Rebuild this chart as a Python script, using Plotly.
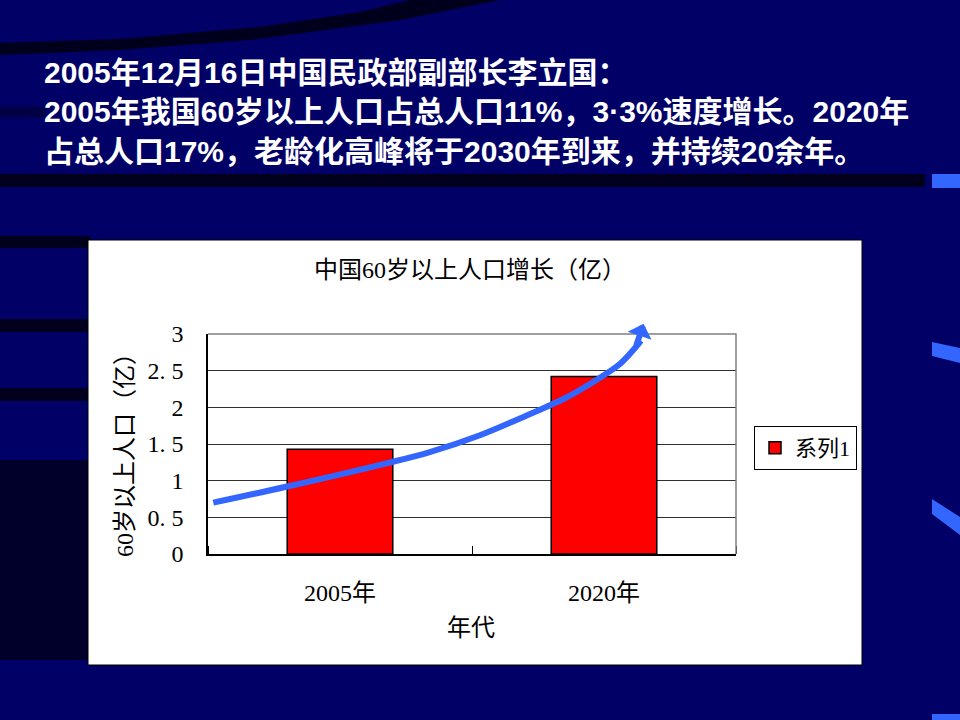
import plotly.graph_objects as go

# chart data
categories = ['2005年', '2020年']
population = [1.43, 2.42]          # 60岁以上人口（亿）
series_name = '系列1'

y_ticks = [0, 0.5, 1, 1.5, 2, 2.5, 3]
y_ticktext = ['0', '0. 5', '1', '1. 5', '2', '2. 5', '3']

# hand drawn growth arrow (x in category units, y in 亿)
arrow_x = [-0.48, -0.20, 0.18, 0.34, 0.53, 0.72, 0.85, 0.97, 1.06, 1.12, 1.14]
arrow_y = [0.70, 0.92, 1.24, 1.39, 1.62, 1.91, 2.12, 2.37, 2.59, 2.82, 2.91]
arrow_tip = (1.15, 3.14)

header_lines = [
    '2005年12月16日中国民政部副部长李立国：',
    '2005年我国60岁以上人口占总人口11%，3·3%速度增长。2020年',
    '占总人口17%，老龄化高峰将于2030年到来，并持续20余年。',
]

W, H = 960, 720
L, R, T, B = 208, 224, 334, 166
PW, PH = W - L - R, H - T - B


def px(x):
    return (x - L) / PW


def py(y):
    return (H - B - y) / PH


def rect(x0, y0, x1, y1, color, opacity=1.0):
    return dict(type='rect', xref='paper', yref='paper', layer='below',
                x0=px(x0), x1=px(x1), y0=py(y1), y1=py(y0),
                fillcolor=color, opacity=opacity, line_width=0)


def poly(points, color, opacity=1.0):
    path = 'M ' + ' L '.join(f'{px(a):.4f},{py(b):.4f}' for a, b in points) + ' Z'
    return dict(type='path', xref='paper', yref='paper', layer='below', path=path,
                fillcolor=color, opacity=opacity, line_width=0)


BLUE = '#3366FF'
SERIF = 'Liberation Serif, Noto Sans CJK SC'

fig = go.Figure()

fig.add_trace(go.Bar(
    x=list(range(len(categories))), y=population, name=series_name, width=0.4,
    marker=dict(color='#FF0000', line=dict(color='black', width=1.5)),
))

fig.add_trace(go.Scatter(
    x=arrow_x, y=arrow_y, mode='lines', showlegend=False, hoverinfo='skip',
    line=dict(color=BLUE, width=6, shape='spline'),
))

# background decoration
shapes = [
    poly([(0, 43), (120, 39), (260, 27), (360, 12), (410, 0), (500, 0),
          (400, 20), (250, 40), (120, 50), (0, 55)], '#000010', 0.85),
    rect(0, 107, 45, 117, '#000020', 0.5),
    rect(0, 174, 925, 187, '#000015', 0.9),
    rect(0, 236, 90, 248, '#000015', 0.9),
    rect(0, 319, 90, 332, '#000015', 0.9),
    rect(0, 388, 90, 401, '#000015', 0.9),
    rect(0, 460, 90, 660, '#000018', 0.75),
    rect(932, 174, 960, 188, BLUE),
    poly([(932, 342), (960, 348), (960, 363), (932, 356)], BLUE),
    poly([(932, 499), (960, 517), (960, 535), (932, 514)], BLUE),
    rect(932, 714, 960, 720, BLUE),
    # white chart box
    dict(type='rect', xref='paper', yref='paper', layer='below',
         x0=px(88), x1=px(862), y0=py(665), y1=py(240),
         fillcolor='white', line=dict(color='black', width=1)),
    # grey plot frame (top / right)
    dict(type='path', xref='x domain', yref='y domain', layer='above',
         path='M 0,1 L 1,1 L 1,0', line=dict(color='#808080', width=1.5)),
]

annotations = [
    dict(text='中国60岁以上人口增长（亿）', xref='paper', yref='paper', x=px(470), y=py(270),
         xanchor='center', yanchor='middle', showarrow=False,
         font=dict(family=SERIF, size=24, color='black')),
    dict(text='60岁以上人口（亿）', xref='paper', yref='paper', x=px(125), y=py(449), textangle=-90,
         xanchor='center', yanchor='middle', showarrow=False,
         font=dict(family=SERIF, size=24, color='black')),
    dict(text='年代', xref='paper', yref='paper', x=px(471), y=py(628),
         xanchor='center', yanchor='middle', showarrow=False,
         font=dict(family=SERIF, size=24, color='black')),
    dict(text='', x=arrow_tip[0], y=arrow_tip[1], xref='x', yref='y',
         ax=arrow_x[-2], ay=arrow_y[-2], axref='x', ayref='y',
         showarrow=True, arrowhead=1, arrowsize=0.7, arrowwidth=6, arrowcolor=BLUE),
]
for i, line in enumerate(header_lines):
    annotations.append(dict(
        text=line, xref='paper', yref='paper', x=px(42), y=py(72 + 40 * i),
        xanchor='left', yanchor='middle', showarrow=False,
        font=dict(family='Liberation Sans, Noto Sans CJK SC', size=30, color='white', weight='bold'),
    ))

fig.update_layout(
    width=W, height=H, autosize=False,
    margin=dict(l=L, r=R, t=T, b=B, pad=0),
    paper_bgcolor='#000066', plot_bgcolor='white',
    showlegend=True,
    legend=dict(x=px(754), y=py(426), xanchor='left', yanchor='top',
                bgcolor='white', bordercolor='black', borderwidth=1,
                font=dict(family=SERIF, size=22, color='black')),
    shapes=shapes, annotations=annotations,
    xaxis=dict(range=[-0.5, 1.5], tickvals=list(range(len(categories))), ticktext=categories,
               ticks='', showgrid=False, zeroline=False,
               showline=True, linecolor='black', linewidth=1.5,
               ticklabelstandoff=16,
               tickfont=dict(family=SERIF, size=24, color='black'),
               minor=dict(tickvals=[-0.5, 0.5, 1.5], ticks='inside', ticklen=8,
                          tickcolor='black', tickwidth=1, showgrid=False)),
    yaxis=dict(range=[0, 3], tickvals=y_ticks, ticktext=y_ticktext,
               ticks='', showgrid=True, gridcolor='#303030', gridwidth=1, zeroline=False,
               showline=True, linecolor='black', linewidth=1.5,
               ticklabelstandoff=18,
               tickfont=dict(family=SERIF, size=24, color='black')),
)

# page has a default 8px body margin; drop it so the figure fills the window
fig.write_html('out.html', config={'displayModeBar': False},
               post_script="document.body.style.margin='0';")
